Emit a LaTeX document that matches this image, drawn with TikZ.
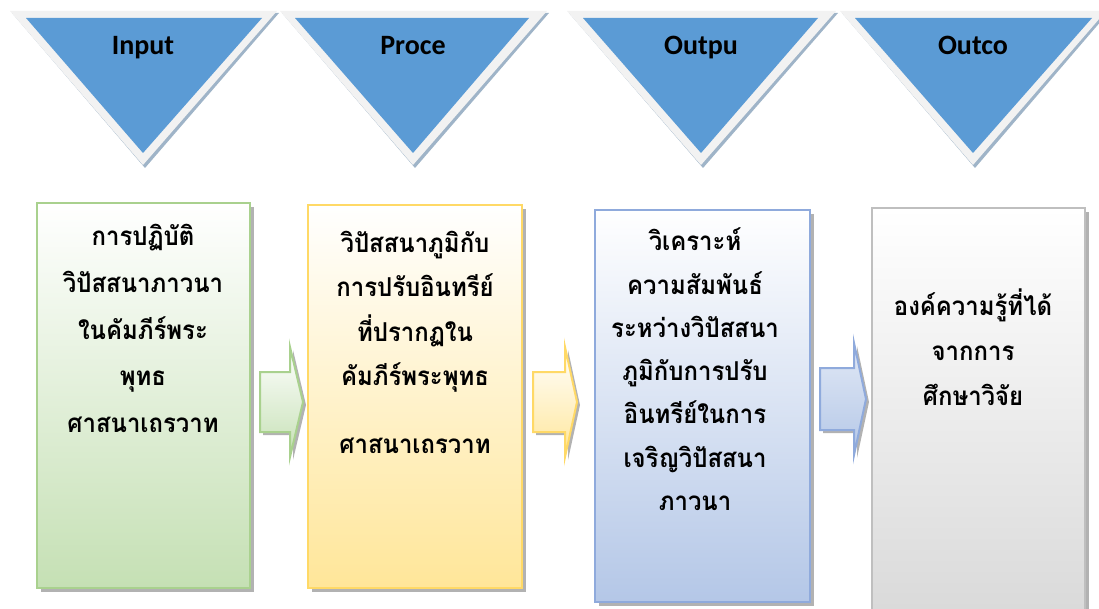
\documentclass[tikz,border=0pt]{standalone}
\usepackage{fontspec}
\usetikzlibrary{shadows}
\newfontfamily\thaifont[Script=Thai,FakeStretch=0.92]{Loma}
\newfontfamily\hdfont{Carlito}
\definecolor{triblue}{HTML}{5B9BD5}
\definecolor{tribord}{HTML}{F2F2F2}
\definecolor{trishad}{HTML}{9FB4C8}
\definecolor{gBord}{HTML}{A9D18E}
\definecolor{gFill}{HTML}{C5E0B4}
\definecolor{yBord}{HTML}{FFD966}
\definecolor{yFill}{HTML}{FFE699}
\definecolor{bBord}{HTML}{8FAADC}
\definecolor{bFill}{HTML}{B4C7E7}
\definecolor{kBord}{HTML}{BFBFBF}
\definecolor{kFill}{HTML}{D9D9D9}
\tikzset{
  head/.style={font=\hdfont\bfseries\fontsize{28}{28}\selectfont, anchor=base, inner sep=0},
  thaitxt/.style={font=\thaifont\bfseries\fontsize{26}{26}\selectfont, anchor=base, inner sep=0},
  boxshape/.style={rectangle, line width=2.2pt, minimum width=#1, inner sep=0,
    drop shadow={shadow xshift=4pt, shadow yshift=-4pt, fill=black, opacity=.3}},
  arrowshape/.style={line width=2pt, line join=miter,
    drop shadow={shadow xshift=3pt, shadow yshift=-3pt, fill=black, opacity=.3}},
  trishadow/.style={fill=trishad},
}
\begin{document}
\begin{tikzpicture}[x=1pt,y=-1pt]
\useasboundingbox (0,0) rectangle (1099,609);

% ---- triangles ----
\foreach \l/\r/\a/\il/\ir in {10/277/143/26/262, 280/547/413/295/529, 567/836/701/583/818, 840/1106/973/855/1092}{
  \fill[trishadow] (\l+2,13) -- (\r+2,13) -- (\a+2,168) -- cycle;
  \fill[tribord] (\l,11) -- (\r,11) -- (\a,165) -- cycle;
  \fill[triblue] (\il,18) -- (\ir,18) -- (\a,153) -- cycle;
}
\node[head] (h1) at (143,55) {Input};
\node[head] (h2) at (413,55) {Proce};
\node[head] (h3) at (701,55) {Outpu};
\node[head] (h4) at (973,55) {Outco};

% ---- boxes ----
\node[boxshape=213pt, minimum height=385pt, draw=gBord, top color=white, bottom color=gFill] (b1) at (143.5,395.5) {};
\node[boxshape=214pt, minimum height=383pt, draw=yBord, top color=white, bottom color=yFill] (b2) at (415,396.5) {};
\node[boxshape=215pt, minimum height=392pt, draw=bBord, top color=white, bottom color=bFill] (b3) at (702.5,406) {};
\node[boxshape=213pt, minimum height=412pt, draw=kBord, top color=white, bottom color=kFill] (b4) at (978.5,414) {};

% ---- block arrows ----
\coordinate (a1) at (260,372);
\filldraw[arrowshape, draw=gBord, top color=white, bottom color=gFill]
  (a1) -- ++(30,0) -- ++(0,-25) -- ++(13,55) -- ++(-13,55) -- ++(0,-25) -- ++(-30,0) -- cycle;
\coordinate (a2) at (533,372);
\filldraw[arrowshape, draw=yBord, top color=white, bottom color=yFill]
  (a2) -- ++(32,0) -- ++(0,-25) -- ++(12,55) -- ++(-12,55) -- ++(0,-25) -- ++(-32,0) -- cycle;
\coordinate (a3) at (820,368);
\filldraw[arrowshape, draw=bBord, top color=bFill!40, bottom color=bFill]
  (a3) -- ++(34,0) -- ++(0,-25) -- ++(12,56) -- ++(-12,56) -- ++(0,-25) -- ++(-34,0) -- cycle;

% ---- texts ----
\foreach \s [count=\i] in {การปฏิบัติ, วิปัสสนาภาวนา, ในคัมภีร์พระ, พุทธ, ศาสนาเถรวาท}
  \node[thaitxt] (t1l\i) at (143,246+46.5*\i-46.5) {\s};
\foreach \s [count=\i] in {วิปัสสนาภูมิกับ, การปรับอินทรีย์, ที่ปรากฏใน, คัมภีร์พระพุทธ}
  \node[thaitxt] (t2l\i) at (415,253+44*\i-44) {\s};
\node[thaitxt] (t2l5) at (415,453) {ศาสนาเถรวาท};
\foreach \s [count=\i] in {วิเคราะห์, ความสัมพันธ์, ระหว่างวิปัสสนา, ภูมิกับการปรับ, อินทรีย์ในการ, เจริญวิปัสสนา, ภาวนา}
  \node[thaitxt] (t3l\i) at (695,251+43.2*\i-43.2) {\s};
\foreach \s [count=\i] in {องค์ความรู้ที่ได้, จากการ, ศึกษาวิจัย}
  \node[thaitxt] (t4l\i) at (973,315+45*\i-45) {\s};
\end{tikzpicture}
\end{document}
